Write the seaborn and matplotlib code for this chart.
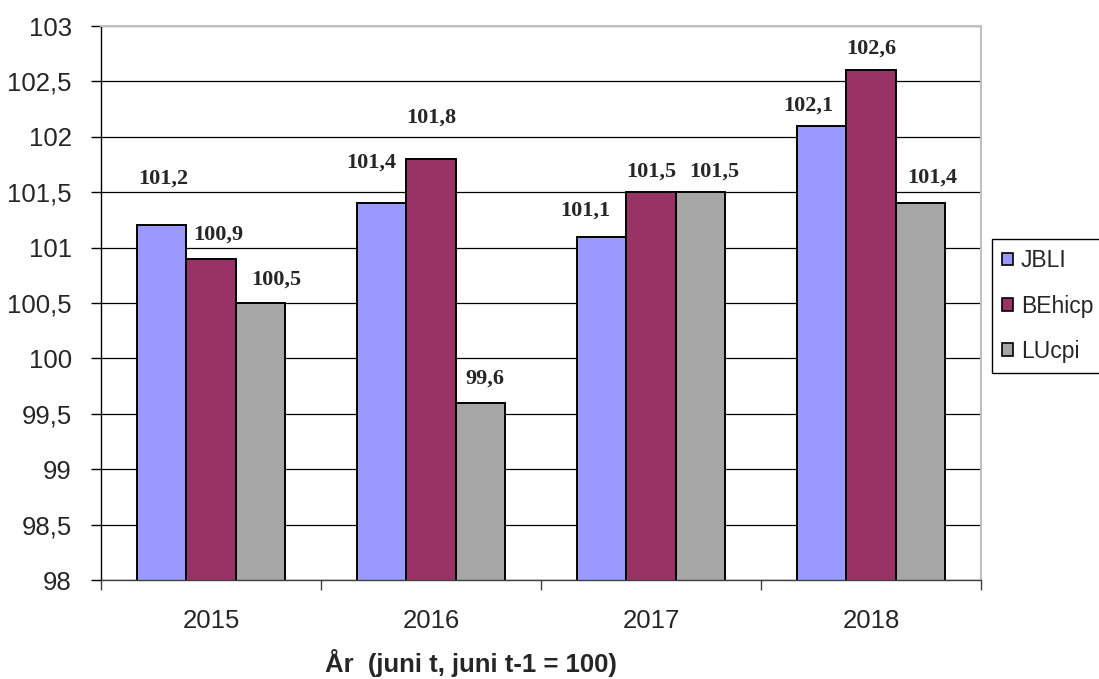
import pandas as pd
import matplotlib
matplotlib.use('Agg')
import matplotlib.pyplot as plt
import seaborn as sns
from matplotlib.patches import Patch
from matplotlib.ticker import FuncFormatter, MultipleLocator, FixedLocator

# Data
years = ['2015', '2016', '2017', '2018']
series = ['JBLI', 'BEhicp', 'LUcpi']
jbli = [101.2, 101.4, 101.1, 102.1]
behicp = [100.9, 101.8, 101.5, 102.6]
lucpi = [100.5, 99.6, 101.5, 101.4]

colors = ['#9999FF', '#993366', '#A6A6A6']

# label placement (pixel offsets from bar top centre), per series / year
label_dx = [[1, -11, -17, -14], [7, 0, 0, 0], [16, 5, 14, 12]]
label_dy = [[47, 41, 26, 20], [24, 41, 21, 22], [23, 24, 21, 26]]

df = pd.DataFrame({
    'year': years * 3,
    'series': [s for s in series for _ in years],
    'value': jbli + behicp + lucpi,
})

sns.set_style('white')
plt.rcParams['font.family'] = ['Liberation Sans', 'DejaVu Sans']

fig = plt.figure(figsize=(10.99, 6.79), dpi=100)
ax = fig.add_axes([101 / 1099, 99 / 679, 880 / 1099, 554 / 679])

sns.barplot(data=df, x='year', y='value', hue='series', hue_order=series,
            palette=colors, width=0.67, gap=0, saturation=1,
            edgecolor='black', linewidth=1.4, legend=False, ax=ax)

ax.set_ylim(98, 103)
ax.set_xlim(-0.5, 3.5)
ax.yaxis.set_major_locator(MultipleLocator(0.5))
ax.yaxis.set_major_formatter(FuncFormatter(lambda v, p: f'{v:g}'.replace('.', ',')))
ax.grid(axis='y', color='black', linewidth=0.9)
ax.set_axisbelow(True)

# category ticks sit between groups, labels centred under groups
ax.xaxis.set_minor_locator(FixedLocator([-0.5, 0.5, 1.5, 2.5, 3.5]))
ax.tick_params(axis='x', which='major', length=0, pad=21, labelsize=18.5)
ax.tick_params(axis='x', which='minor', length=7, width=1, color='#404040',
               direction='out', bottom=True)
ax.tick_params(axis='y', length=7, width=1, pad=14, labelsize=18.5,
               direction='out', left=True, color='black')

for side in ['top', 'right']:
    ax.spines[side].set_color('#C0C0C0')
    ax.spines[side].set_linewidth(1.5)
ax.spines['left'].set_color('black')
ax.spines['bottom'].set_color('#404040')
ax.spines['left'].set_linewidth(1)
ax.spines['bottom'].set_linewidth(1)

ax.set_ylabel('')
ax.set_xlabel('År  (juni t, juni t-1 = 100)', fontsize=18.5, fontweight='bold')
ax.xaxis.label.set_ha('left')
ax.xaxis.set_label_coords(0.2545, -0.125)

# value labels
for i, cont in enumerate(ax.containers):
    for j, bar in enumerate(cont):
        val = bar.get_height()
        ax.annotate(f'{val:.1f}'.replace('.', ','),
                    (bar.get_x() + bar.get_width() / 2, val),
                    xytext=(label_dx[i][j], label_dy[i][j]),
                    textcoords='offset pixels', ha='center', va='center',
                    fontsize=16, fontweight='bold', family='Liberation Serif')

handles = [Patch(facecolor=c, edgecolor='black', linewidth=1.2, label=s)
           for c, s in zip(colors, series)]
leg = ax.legend(handles=handles, loc='upper left',
                bbox_to_anchor=(992 / 1099, 1 - 239 / 679),
                bbox_transform=fig.transFigure, fontsize=16.5,
                handlelength=0.45, handleheight=0.45, handletextpad=0.35,
                labelspacing=0.97, borderpad=0.45, borderaxespad=0,
                fancybox=False, framealpha=1, edgecolor='black')
leg.get_frame().set_linewidth(1)

fig.savefig('out.png', dpi=100)
